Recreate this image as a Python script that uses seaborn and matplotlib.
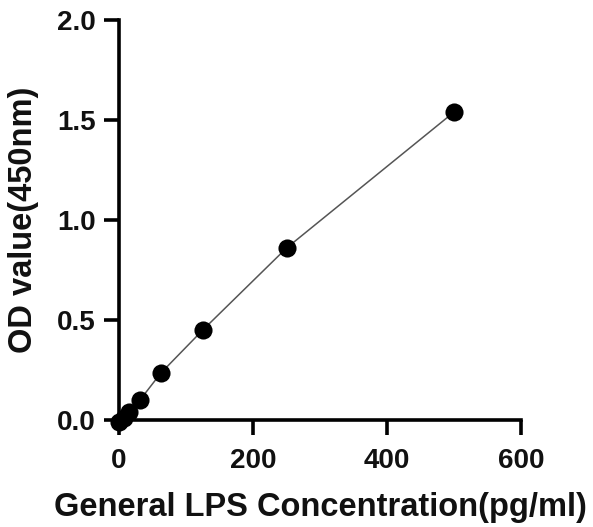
import matplotlib
matplotlib.use("Agg")
import matplotlib.pyplot as plt
import seaborn as sns
import pandas as pd

concentration = [0, 7.8, 15.6, 31.25, 62.5, 125, 250, 500]
od_value = [-0.01, 0.008, 0.04, 0.10, 0.235, 0.45, 0.86, 1.54]
x_ticks = [0, 200, 400, 600]
y_ticks = [0.0, 0.5, 1.0, 1.5, 2.0]

df = pd.DataFrame({"conc": concentration, "od": od_value})

sns.set_style("ticks")
plt.rcParams["font.family"] = ["Liberation Sans", "DejaVu Sans"]
plt.rcParams["font.weight"] = "bold"

fig = plt.figure(figsize=(5.93, 5.27), dpi=100)
ax = fig.add_axes([0.2007, 0.203, 0.678, 0.759])

sns.lineplot(data=df, x="conc", y="od", ax=ax, color="#555555", linewidth=1.1)
sns.scatterplot(data=df, x="conc", y="od", ax=ax, color="black", s=170,
                edgecolor="black", linewidth=0, zorder=3)

ax.set_xlim(0, 600)
ax.set_ylim(0, 2.0)
ax.set_xticks(x_ticks)
ax.set_yticks(y_ticks)
ax.set_yticklabels([f"{v:.1f}" for v in y_ticks])
ax.set_xticklabels([str(v) for v in x_ticks])
for lab in ax.get_xticklabels() + ax.get_yticklabels():
    lab.set_fontsize(20)
    lab.set_fontweight("bold")
    lab.set_color("#111111")
ax.set_xlabel("General LPS Concentration(pg/ml)", fontsize=23.5, fontweight="bold",
              labelpad=13, color="#111111")
ax.set_ylabel("OD value(450nm)", fontsize=23.5, fontweight="bold", labelpad=13,
              color="#111111")
for s in ["left", "bottom"]:
    ax.spines[s].set_linewidth(2.6)
    ax.spines[s].set_color("black")
for s in ["top", "right"]:
    ax.spines[s].set_visible(False)
ax.tick_params(width=2.6, length=11, color="black", direction="out", pad=6)
ax.tick_params(axis="x", pad=9)
ax.patch.set_alpha(0)
for c in ax.collections:
    c.set_clip_on(False)

fig.savefig("out.png", dpi=100)
